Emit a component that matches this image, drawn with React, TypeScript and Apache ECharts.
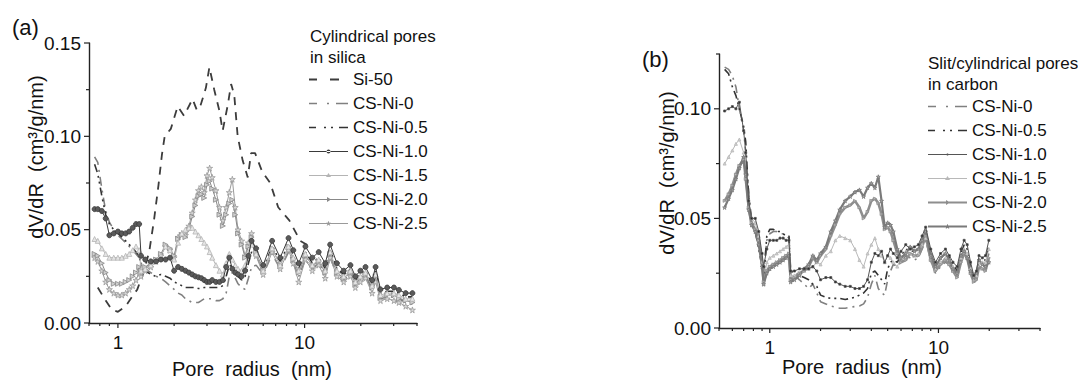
import { useEffect, useRef } from "react";
import * as echarts from "echarts";

// ---------- Panel (a): cylindrical pores in silica ----------
const A_R = [0.75, 0.78, 0.82, 0.86, 0.9, 0.95, 1.0, 1.05, 1.1, 1.15, 1.2, 1.25, 1.3, 1.33, 1.4,
  1.5, 1.6, 1.7, 1.8, 1.9, 2.0, 2.1, 2.2, 2.3, 2.4, 2.5, 2.6, 2.7, 2.8, 2.9, 3.0, 3.1, 3.2, 3.35, 3.5,
  3.65, 3.8, 3.95, 4.1, 4.25, 4.4, 4.6, 4.8, 5.0, 5.2, 5.5, 6.0, 6.7, 7.4, 8.2, 8.7, 9.3, 10.1, 11.0, 11.9,
  12.9, 13.7, 14.9, 16.2, 17.6, 18.7, 19.9, 21.2, 23.0, 24.0, 25.5, 27.7, 30.1, 32.0, 34.8, 37.8];

const A_SI50_R = [0.78, 0.86, 0.93, 1.0, 1.1, 1.19, 1.27, 1.37, 1.47, 1.56, 1.65, 1.72, 1.78, 1.92, 2.09,
  2.26, 2.51, 2.65, 2.78, 2.96, 3.09, 3.28, 3.49, 3.64, 3.88, 4.04, 4.2, 4.38, 4.66, 4.96, 5.17, 5.43,
  5.93, 6.54, 7.22, 7.8, 8.28, 9.48, 11.1];
const A_SI50 = [0.019, 0.012, 0.007, 0.006, 0.009, 0.014, 0.018, 0.027, 0.038, 0.055, 0.074, 0.09, 0.1,
  0.104, 0.116, 0.111, 0.12, 0.114, 0.117, 0.126, 0.137, 0.125, 0.114, 0.103, 0.117, 0.128, 0.122, 0.1,
  0.087, 0.078, 0.091, 0.091, 0.081, 0.075, 0.062, 0.058, 0.055, 0.044, 0.04];

const A_NI0 = [0.089, 0.086, 0.072, 0.060, 0.054, 0.050, 0.047, 0.045, 0.043, 0.041, 0.039, 0.037, 0.035,
  0.032, 0.029, 0.027, 0.025, 0.024, 0.022, 0.020, 0.018, 0.016, 0.015, 0.013, 0.012, 0.011, 0.011, 0.011,
  0.012, 0.013, 0.013, 0.013, 0.013, 0.012, 0.012, 0.013, 0.016, 0.025, 0.027, 0.024, 0.021, 0.019, 0.018,
  0.024, 0.030, 0.031, 0.026, 0.037, 0.029, 0.038, 0.032, 0.025, 0.034, 0.029, 0.032, 0.026, 0.035, 0.026,
  0.023, 0.026, 0.020, 0.023, 0.025, 0.018, 0.024, 0.013, 0.014, 0.014, 0.013, 0.011, 0.010];
const A_NI05 = [0.085, 0.080, 0.068, 0.058, 0.053, 0.050, 0.048, 0.046, 0.044, 0.042, 0.040, 0.038, 0.036,
  0.030, 0.028, 0.026, 0.025, 0.026, 0.025, 0.024, 0.022, 0.021, 0.020, 0.019, 0.019, 0.019, 0.019, 0.0185,
  0.0185, 0.019, 0.019, 0.019, 0.019, 0.019, 0.019, 0.020, 0.025, 0.031, 0.030, 0.027, 0.025, 0.023, 0.025,
  0.032, 0.038, 0.036, 0.029, 0.041, 0.033, 0.042, 0.036, 0.029, 0.038, 0.032, 0.035, 0.029, 0.039, 0.029,
  0.026, 0.029, 0.023, 0.026, 0.028, 0.021, 0.028, 0.016, 0.017, 0.017, 0.016, 0.014, 0.014];
const A_NI10 = [0.061, 0.061, 0.060, 0.056, 0.047, 0.048, 0.049, 0.048, 0.048, 0.049, 0.051, 0.053, 0.053,
  0.036, 0.034, 0.033, 0.033, 0.034, 0.034, 0.035, 0.028, 0.030, 0.029, 0.028, 0.027, 0.026, 0.025, 0.0245,
  0.024, 0.023, 0.022, 0.022, 0.023, 0.022, 0.022, 0.023, 0.030, 0.035, 0.029, 0.027, 0.026, 0.025, 0.028,
  0.036, 0.044, 0.040, 0.031, 0.044, 0.035, 0.0455, 0.039, 0.032, 0.041, 0.035, 0.038, 0.032, 0.042, 0.032,
  0.028, 0.031, 0.025, 0.028, 0.030, 0.023, 0.030, 0.018, 0.019, 0.019, 0.0177, 0.016, 0.016];
const A_NI15 = [0.045, 0.044, 0.040, 0.037, 0.035, 0.035, 0.035, 0.035, 0.036, 0.037, 0.039, 0.041, 0.039,
  0.028, 0.029, 0.031, 0.034, 0.036, 0.041, 0.039, 0.034, 0.043, 0.048, 0.050, 0.051, 0.051, 0.049, 0.047,
  0.045, 0.043, 0.041, 0.038, 0.035, 0.031, 0.028, 0.026, 0.032, 0.037, 0.034, 0.031, 0.029, 0.028, 0.031,
  0.038, 0.042, 0.037, 0.028, 0.040, 0.031, 0.041, 0.035, 0.028, 0.037, 0.031, 0.034, 0.028, 0.038, 0.028,
  0.025, 0.028, 0.022, 0.025, 0.027, 0.020, 0.026, 0.015, 0.016, 0.016, 0.015, 0.013, 0.013];
const A_NI20 = [0.037, 0.036, 0.032, 0.027, 0.023, 0.021, 0.021, 0.021, 0.022, 0.023, 0.025, 0.027, 0.030,
  0.028, 0.030, 0.032, 0.034, 0.037, 0.042, 0.040, 0.036, 0.045, 0.047, 0.046, 0.050, 0.057, 0.063, 0.068,
  0.069, 0.067, 0.074, 0.076, 0.072, 0.066, 0.058, 0.052, 0.058, 0.064, 0.066, 0.058, 0.048, 0.042, 0.035,
  0.041, 0.046, 0.038, 0.028, 0.040, 0.031, 0.041, 0.034, 0.027, 0.036, 0.031, 0.033, 0.027, 0.037, 0.027,
  0.024, 0.027, 0.021, 0.024, 0.026, 0.019, 0.025, 0.014, 0.015, 0.015, 0.013, 0.012, 0.011];
const A_NI25 = [0.035, 0.033, 0.028, 0.022, 0.018, 0.016, 0.015, 0.015, 0.016, 0.018, 0.020, 0.023, 0.027,
  0.025, 0.028, 0.030, 0.033, 0.036, 0.041, 0.039, 0.035, 0.046, 0.048, 0.047, 0.052, 0.059, 0.066, 0.071,
  0.073, 0.070, 0.079, 0.083, 0.078, 0.071, 0.062, 0.055, 0.062, 0.070, 0.077, 0.062, 0.050, 0.044, 0.036,
  0.043, 0.048, 0.036, 0.026, 0.038, 0.029, 0.039, 0.032, 0.022, 0.034, 0.028, 0.031, 0.024, 0.035, 0.025,
  0.022, 0.025, 0.019, 0.022, 0.024, 0.016, 0.022, 0.012, 0.013, 0.012, 0.011, 0.009, 0.007];

// ---------- Panel (b): slit/cylindrical pores in carbon ----------
const B_R = [0.54, 0.57, 0.6, 0.63, 0.66, 0.7, 0.72, 0.75, 0.78, 0.82, 0.86, 0.9, 0.92, 0.96, 1.0,
  1.05, 1.1, 1.15, 1.2, 1.25, 1.3, 1.33, 1.4, 1.5, 1.6, 1.7, 1.8, 1.9, 2.0, 2.15, 2.3, 2.45, 2.6, 2.8, 3.0,
  3.2, 3.4, 3.6, 3.8, 4.0, 4.2, 4.4, 4.6, 4.8, 5.0, 5.2, 5.4, 5.7, 6.0, 6.4, 6.8, 7.2, 7.6, 8.0, 8.4,
  9.0, 9.6, 10.3, 11.0, 11.6, 12.2, 12.9, 13.6, 14.2, 14.8, 15.5, 16.2, 16.8, 17.4, 18.2, 19.0, 19.9];

const B_NI0 = [0.119, 0.118, 0.115, 0.110, 0.100, 0.090, 0.080, 0.062, 0.050, 0.046, 0.040, 0.030, 0.025,
  0.040, 0.043, 0.044, 0.044, 0.043, 0.043, 0.042, 0.041, 0.025, 0.024, 0.022, 0.020, 0.018, 0.020, 0.016,
  0.012, 0.011, 0.010, 0.0095, 0.009, 0.009, 0.0095, 0.0098, 0.010, 0.011, 0.014, 0.020, 0.024, 0.018,
  0.016, 0.015, 0.022, 0.026, 0.029, 0.028, 0.030, 0.033, 0.032, 0.031, 0.032, 0.036, 0.040, 0.031, 0.025,
  0.028, 0.030, 0.029, 0.026, 0.023, 0.030, 0.034, 0.032, 0.025, 0.021, 0.023, 0.028, 0.028, 0.028, 0.034];
const B_NI05 = [0.118, 0.116, 0.110, 0.106, 0.100, 0.092, 0.085, 0.060, 0.048, 0.044, 0.036, 0.028, 0.022,
  0.042, 0.045, 0.045, 0.044, 0.044, 0.043, 0.042, 0.042, 0.026, 0.025, 0.024, 0.023, 0.022, 0.020, 0.019,
  0.015, 0.014, 0.0135, 0.0135, 0.0135, 0.013, 0.0135, 0.014, 0.015, 0.016, 0.018, 0.025, 0.026, 0.024,
  0.022, 0.020, 0.027, 0.030, 0.031, 0.030, 0.033, 0.036, 0.035, 0.035, 0.036, 0.040, 0.044, 0.034, 0.028,
  0.032, 0.034, 0.032, 0.029, 0.026, 0.034, 0.038, 0.036, 0.028, 0.023, 0.025, 0.031, 0.031, 0.031, 0.038];
const B_NI10 = [0.099, 0.100, 0.101, 0.100, 0.103, 0.090, 0.080, 0.058, 0.050, 0.050, 0.044, 0.034, 0.028,
  0.036, 0.040, 0.040, 0.040, 0.041, 0.041, 0.040, 0.040, 0.026, 0.026, 0.027, 0.027, 0.027, 0.028, 0.026,
  0.022, 0.023, 0.023, 0.021, 0.020, 0.019, 0.019, 0.018, 0.018, 0.019, 0.022, 0.030, 0.034, 0.033, 0.035,
  0.030, 0.033, 0.036, 0.034, 0.032, 0.035, 0.038, 0.036, 0.037, 0.038, 0.042, 0.046, 0.036, 0.030, 0.034,
  0.036, 0.033, 0.030, 0.028, 0.036, 0.040, 0.038, 0.030, 0.024, 0.026, 0.033, 0.032, 0.033, 0.040];
const B_NI15 = [0.075, 0.078, 0.081, 0.084, 0.086, 0.080, 0.070, 0.055, 0.050, 0.048, 0.042, 0.030, 0.020,
  0.030, 0.032, 0.033, 0.034, 0.035, 0.036, 0.037, 0.038, 0.024, 0.024, 0.025, 0.026, 0.027, 0.028, 0.030,
  0.029, 0.033, 0.035, 0.040, 0.042, 0.041, 0.040, 0.036, 0.031, 0.028, 0.034, 0.038, 0.041, 0.036, 0.033,
  0.030, 0.033, 0.032, 0.030, 0.028, 0.032, 0.035, 0.034, 0.033, 0.034, 0.038, 0.041, 0.033, 0.027, 0.030,
  0.032, 0.031, 0.028, 0.025, 0.032, 0.036, 0.034, 0.027, 0.022, 0.024, 0.030, 0.030, 0.030, 0.036];
const B_NI20 = [0.058, 0.061, 0.065, 0.070, 0.074, 0.077, 0.068, 0.055, 0.048, 0.045, 0.040, 0.030, 0.021,
  0.026, 0.028, 0.029, 0.030, 0.031, 0.032, 0.033, 0.034, 0.022, 0.023, 0.025, 0.026, 0.028, 0.032, 0.030,
  0.033, 0.036, 0.042, 0.047, 0.052, 0.055, 0.056, 0.058, 0.055, 0.050, 0.053, 0.058, 0.059, 0.057, 0.052,
  0.045, 0.046, 0.044, 0.040, 0.034, 0.030, 0.031, 0.034, 0.033, 0.033, 0.037, 0.042, 0.031, 0.026, 0.029,
  0.031, 0.029, 0.026, 0.023, 0.030, 0.034, 0.032, 0.025, 0.021, 0.022, 0.028, 0.027, 0.026, 0.032];
const B_NI25 = [0.055, 0.059, 0.063, 0.068, 0.073, 0.078, 0.070, 0.054, 0.047, 0.044, 0.038, 0.028, 0.020,
  0.025, 0.027, 0.028, 0.029, 0.030, 0.031, 0.032, 0.033, 0.021, 0.022, 0.024, 0.027, 0.029, 0.033, 0.031,
  0.034, 0.037, 0.044, 0.049, 0.054, 0.058, 0.060, 0.062, 0.063, 0.060, 0.064, 0.066, 0.064, 0.069, 0.058,
  0.046, 0.048, 0.047, 0.044, 0.036, 0.032, 0.034, 0.037, 0.035, 0.036, 0.040, 0.044, 0.033, 0.028, 0.032,
  0.034, 0.031, 0.027, 0.025, 0.033, 0.035, 0.032, 0.026, 0.023, 0.025, 0.031, 0.029, 0.028, 0.030];

// ---------- Axis ticks ----------
const A_X_MAJOR = [1, 10];
const A_X_MINOR = [0.7, 0.8, 0.9, 2, 3, 4, 5, 6, 7, 8, 9, 20, 30, 40];
const B_X_MAJOR = [1, 10];
const B_X_MINOR = [0.5, 0.6, 0.7, 0.8, 0.9, 2, 3, 4, 5, 6, 7, 8, 9, 20, 30, 40];
const A_Y_MAJOR = [0, 0.05, 0.1, 0.15];
const A_Y_MINOR = [0.025, 0.075, 0.125];
const B_Y_MAJOR = [0, 0.05, 0.1];
const B_Y_MINOR = [0.025, 0.075, 0.125];

const LEGEND_A = ["Si-50", "CS-Ni-0", "CS-Ni-0.5", "CS-Ni-1.0", "CS-Ni-1.5", "CS-Ni-2.0", "CS-Ni-2.5"];
const LEGEND_B = ["CS-Ni-0", "CS-Ni-0.5", "CS-Ni-1.0", "CS-Ni-1.5", "CS-Ni-2.0", "CS-Ni-2.5"];

const FONT = "'Liberation Sans', Arial, Helvetica, sans-serif";
const STAR = "path://M50,0 L61,35 L98,35 L68,57 L79,91 L50,70 L21,91 L32,57 L2,35 L39,35 Z";

// Legend key glyphs, drawn in a 39 x 14 box (tiny corner specks pin the box size).
const BOX = "M0,0h0.01v0.01z M39,14h-0.01v-0.01z ";
const K_SOLID = "M0,6.4H39V7.6H0Z ";
const K_THICK = "M0,5.9H39V8.1H0Z ";
const KEY: Record<string, string> = {
  dash: BOX + "M0,6H8V8H0Z M21,6H30V8H21Z",
  dashDot: BOX + "M0,6.2H8V7.8H0Z M18,6.2H20V7.8H18Z M27,6.2H39V7.8H27Z",
  dashDotDot: BOX + "M0,6.2H7V7.8H0Z M15,6.2H17V7.8H15Z M22,6.2H24V7.8H22Z M30,6.2H39V7.8H30Z",
  circle: BOX + K_SOLID + "M17.5,7 A2,2 0 1,0 21.5,7 A2,2 0 1,0 17.5,7 Z",
  tri: BOX + K_SOLID + "M19.5,4.6 L22,8.6 L17,8.6 Z",
  triR: BOX + K_SOLID + "M18,4.6 L22,7 L18,9.4 Z",
  star: BOX + K_SOLID + "M19.5,4.3 L20.3,6.3 L22.3,6.3 L20.7,7.5 L21.3,9.5 L19.5,8.3 L17.7,9.5 L18.3,7.5 L16.7,6.3 L18.7,6.3 Z",
  dot: BOX + K_SOLID + "M18.8,6 H20.2 V8 H18.8 Z",
  thickTriR: BOX + K_THICK + "M18,4.6 L22,7 L18,9.4 Z",
  thickStar: BOX + K_THICK + "M19.5,4.3 L20.3,6.3 L22.3,6.3 L20.7,7.5 L21.3,9.5 L19.5,8.3 L17.7,9.5 L18.3,7.5 L16.7,6.3 L18.7,6.3 Z",
};

const LEGEND_A_KEYS = ["dash", "dashDot", "dashDotDot", "circle", "tri", "triR", "star"];
const LEGEND_A_COLORS = ["#3c3c3c", "#808080", "#333333", "#3a3a3a", "#b4b4b4", "#888888", "#9a9a9a"];
const LEGEND_B_KEYS = ["dashDot", "dashDotDot", "dot", "tri", "thickTriR", "thickStar"];
const LEGEND_B_COLORS = ["#808080", "#333333", "#555555", "#b8b8b8", "#8e8e8e", "#7a7a7a"];

const pairs = (xs: number[], ys: number[]) => xs.map((x, i) => [x, ys[i]]);

function line(name: string, grid: number, xs: number[], ys: number[], opts: any) {
  return {
    type: "line",
    name,
    xAxisIndex: grid,
    yAxisIndex: grid,
    data: pairs(xs, ys),
    showSymbol: !!opts.symbol,
    symbol: opts.symbol || "none",
    symbolSize: opts.symbolSize || 4,
    symbolRotate: opts.symbolRotate || 0,
    itemStyle: {
      color: opts.fill || opts.color,
      borderColor: opts.color,
      borderWidth: opts.borderWidth ?? 0.8,
    },
    lineStyle: { color: opts.color, width: opts.width || 1, type: opts.type || "solid" },
    z: opts.z || 2,
    silent: true,
  };
}

function ticks(grid: number, dir: "x" | "y", major: number[], minor: number[], anchor: number) {
  const data = [
    ...major.map((v) => (dir === "x" ? [v, anchor, 1] : [anchor, v, 1])),
    ...minor.map((v) => (dir === "x" ? [v, anchor, 0] : [anchor, v, 0])),
  ];
  return {
    type: "custom",
    xAxisIndex: grid,
    yAxisIndex: grid,
    silent: true,
    clip: false,
    z: 10,
    data,
    renderItem: (_p: any, api: any) => {
      const pt = api.coord([api.value(0), api.value(1)]);
      const len = api.value(2) ? 5 : 3;
      const shape =
        dir === "x"
          ? { x1: pt[0], y1: pt[1], x2: pt[0], y2: pt[1] + len }
          : { x1: pt[0] - len, y1: pt[1], x2: pt[0], y2: pt[1] };
      return { type: "line", shape, style: { stroke: "#222", lineWidth: 1.2 } };
    },
  };
}

const axisLine = { show: true, onZero: false, lineStyle: { color: "#222", width: 1.4 } };
const tickLabel = { fontSize: 19, color: "#111", fontFamily: FONT };

function xAxis(grid: number, min: number, max: number) {
  return {
    type: "log",
    logBase: 10,
    gridIndex: grid,
    min,
    max,
    axisLine,
    axisTick: { show: false },
    splitLine: { show: false },
    minorTick: { show: false },
    axisLabel: {
      ...tickLabel,
      margin: 10,
      showMinLabel: false,
      showMaxLabel: false,
      formatter: (v: number) => (Math.abs(v - 1) < 1e-6 ? "1" : Math.abs(v - 10) < 1e-5 ? "10" : ""),
    },
  };
}

function yAxis(grid: number, max: number, showMax: boolean) {
  return {
    type: "value",
    gridIndex: grid,
    min: 0,
    max,
    interval: 0.05,
    axisLine,
    axisTick: { show: false },
    splitLine: { show: false },
    axisLabel: {
      ...tickLabel,
      margin: 8,
      showMaxLabel: showMax,
      formatter: (v: number) => v.toFixed(2),
    },
  };
}

function legend(names: string[], keys: string[], colors: string[], left: number, top: number, prefix: string) {
  return {
    show: true,
    orient: "vertical",
    left,
    top,
    padding: 0,
    itemWidth: 39,
    itemHeight: 14,
    itemGap: 7,
    selectedMode: false,
    data: names.map((n, i) => ({
      name: prefix + n,
      icon: "path://" + KEY[keys[i]],
      itemStyle: { color: colors[i], borderWidth: 0, borderColor: "transparent" },
    })),
    formatter: (n: string) => n.replace(prefix, ""),
    textStyle: { fontSize: 17, color: "#111", fontFamily: FONT },
  };
}

export default function App() {
  const ref = useRef<HTMLDivElement>(null);

  useEffect(() => {
    if (!ref.current) return;
    const chart = echarts.init(ref.current, undefined, { renderer: "svg" });

    const seriesA = [
      line("Si-50", 0, A_SI50_R, A_SI50, { color: "#3c3c3c", width: 1.8, type: [8, 7] }),
      line("CS-Ni-0", 0, A_R, A_NI0, { color: "#808080", width: 1.6, type: [9, 5, 2, 5] }),
      line("CS-Ni-0.5", 0, A_R, A_NI05, { color: "#333333", width: 1.6, type: [8, 4, 2, 4, 2, 4] }),
      line("CS-Ni-2.5", 0, A_R, A_NI25, { color: "#9a9a9a", fill: "#d8d8d8", symbol: STAR, symbolSize: 6 }),
      line("CS-Ni-2.0", 0, A_R, A_NI20, { color: "#888888", fill: "#cfcfcf", symbol: "triangle", symbolRotate: -90, symbolSize: 5 }),
      line("CS-Ni-1.5", 0, A_R, A_NI15, { color: "#b4b4b4", fill: "#e6e6e6", symbol: "triangle", symbolSize: 5 }),
      line("CS-Ni-1.0", 0, A_R, A_NI10, { color: "#3a3a3a", fill: "#5a5a5a", symbol: "circle", symbolSize: 5, z: 3 }),
    ];

    const seriesB = [
      line("b:CS-Ni-0", 1, B_R, B_NI0, { color: "#808080", width: 1.6, type: [9, 5, 2, 5] }),
      line("b:CS-Ni-0.5", 1, B_R, B_NI05, { color: "#333333", width: 1.6, type: [8, 4, 2, 4, 2, 4] }),
      line("b:CS-Ni-1.5", 1, B_R, B_NI15, { color: "#b8b8b8", fill: "#d0d0d0", symbol: "triangle", symbolSize: 3 }),
      line("b:CS-Ni-2.0", 1, B_R, B_NI20, { color: "#8e8e8e", fill: "#bbbbbb", width: 2.6, symbol: "triangle", symbolRotate: -90, symbolSize: 3 }),
      line("b:CS-Ni-2.5", 1, B_R, B_NI25, { color: "#7a7a7a", fill: "#aaaaaa", width: 2.2, symbol: STAR, symbolSize: 4 }),
      line("b:CS-Ni-1.0", 1, B_R, B_NI10, { color: "#555555", fill: "#222222", symbol: "rect", symbolSize: 2, z: 3 }),
    ];

    const txt = (text: string, x: number, y: number, size: number, extra: any = {}) => ({
      type: "text",
      x,
      y,
      silent: true,
      style: {
        text,
        fontSize: size,
        fontFamily: FONT,
        fill: "#111",
        ...extra,
      },
    });

    chart.setOption({
      animation: false,
      backgroundColor: "#ffffff",
      grid: [
        { left: 89, top: 43, width: 328, height: 280 },
        { left: 719, top: 54, width: 321, height: 274 },
      ],
      xAxis: [xAxis(0, 0.7, 40), xAxis(1, 0.5, 40)],
      yAxis: [yAxis(0, 0.15, true), yAxis(1, 0.125, false)],
      legend: [
        legend(LEGEND_A, LEGEND_A_KEYS, LEGEND_A_COLORS, 309, 71, ""),
        legend(LEGEND_B, LEGEND_B_KEYS, LEGEND_B_COLORS, 928, 98, "b:"),
      ],
      series: [
        ...seriesA,
        ...seriesB,
        ticks(0, "x", A_X_MAJOR, A_X_MINOR, 0),
        ticks(0, "y", A_Y_MAJOR, A_Y_MINOR, 0.7),
        ticks(1, "x", B_X_MAJOR, B_X_MINOR, 0),
        ticks(1, "y", B_Y_MAJOR, B_Y_MINOR, 0.5),
      ],
      graphic: [
        txt("(a)", 12, 27, 22, { textVerticalAlign: "middle" }),
        txt("(b)", 642, 59, 22, { textVerticalAlign: "middle" }),
        txt("Cylindrical pores", 310, 36, 17, { textVerticalAlign: "middle" }),
        txt("in silica", 310, 57, 17, { textVerticalAlign: "middle" }),
        txt("Slit/cylindrical pores", 928, 63, 17, { textVerticalAlign: "middle" }),
        txt("in carbon", 928, 84, 17, { textVerticalAlign: "middle" }),
        {
          ...txt("dV/dR  (cm³/g/nm)", 36, 157, 20, { textAlign: "center", textVerticalAlign: "middle" }),
          rotation: Math.PI / 2,
        },
        {
          ...txt("dV/dR  (cm³/g/nm)", 667, 173, 20, { textAlign: "center", textVerticalAlign: "middle" }),
          rotation: Math.PI / 2,
        },
        txt("Pore  radius  (nm)", 252, 369, 20, { textAlign: "center", textVerticalAlign: "middle" }),
        txt("Pore  radius  (nm)", 862, 367, 20, { textAlign: "center", textVerticalAlign: "middle" }),
      ],
    });

    return () => chart.dispose();
  }, []);

  return (
    <div
      ref={ref}
      style={{ position: "fixed", left: 0, top: 0, width: 1078, height: 381, background: "#fff" }}
    />
  );
}
